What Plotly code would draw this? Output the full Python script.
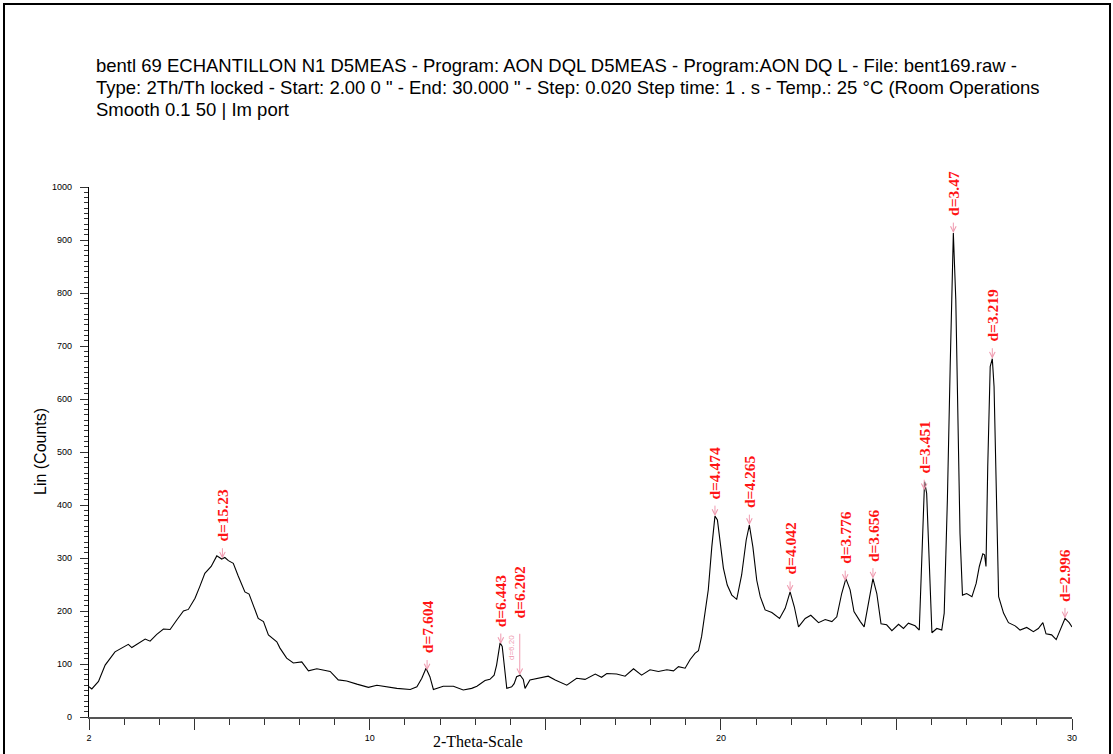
import numpy as np
import plotly.graph_objects as go

# Diffractogram trace: 2-theta (degrees) and intensity (counts)
two_theta = [
    2.00, 2.08, 2.27, 2.46, 2.74, 2.93, 3.12, 3.22, 3.40, 3.60, 3.74, 3.93, 4.12, 4.31,
    4.50, 4.69, 4.83, 5.02, 5.16, 5.30, 5.48, 5.64, 5.78, 5.87, 5.97, 6.11, 6.25, 6.44,
    6.56, 6.68, 6.82, 6.97, 7.11, 7.35, 7.44, 7.63, 7.82, 8.06, 8.25, 8.49, 8.68, 8.87,
    9.10, 9.34, 9.63, 9.96, 10.20, 10.48, 10.77, 11.15, 11.34, 11.48, 11.60, 11.71, 11.81,
    12.09, 12.38, 12.66, 12.90, 13.05, 13.28, 13.42, 13.54, 13.61, 13.71, 13.77, 13.83,
    13.90, 14.04, 14.11, 14.18, 14.28, 14.37, 14.42, 14.56, 14.75, 15.08, 15.28, 15.61,
    15.89, 16.13, 16.42, 16.60, 16.75, 17.03, 17.27, 17.51, 17.74, 17.98, 18.22, 18.46,
    18.65, 18.79, 18.98, 19.12, 19.26, 19.36, 19.45, 19.55, 19.64, 19.74, 19.83, 19.90,
    19.98, 20.07, 20.18, 20.31, 20.45, 20.59, 20.72, 20.81, 20.91, 21.02, 21.12, 21.26,
    21.45, 21.67, 21.83, 21.97, 22.09, 22.21, 22.40, 22.56, 22.78, 22.97, 23.16, 23.30,
    23.44, 23.56, 23.68, 23.79, 23.97, 24.08, 24.20, 24.33, 24.44, 24.56, 24.72, 24.87,
    25.06, 25.20, 25.34, 25.53, 25.65, 25.72, 25.80, 25.86, 25.94, 26.01, 26.15, 26.29,
    26.36, 26.45, 26.53, 26.62, 26.69, 26.77, 26.81, 26.88, 27.00, 27.15, 27.27, 27.36,
    27.46, 27.51, 27.55, 27.60, 27.67, 27.73, 27.78, 27.84, 27.91, 28.05, 28.19, 28.38,
    28.52, 28.71, 28.90, 29.04, 29.17, 29.26, 29.42, 29.55, 29.68, 29.80, 29.92, 30.00,
]
counts = [
    57, 53, 67, 98, 123, 130, 137, 131, 138, 147, 143, 156, 166, 165,
    183, 200, 203, 224, 247, 271, 284, 304, 298, 301, 295, 290, 266, 236,
    232, 211, 186, 180, 155, 142, 130, 111, 102, 104, 87, 91, 89, 86,
    70, 68, 62, 56, 60, 57, 54, 52, 57, 73, 92, 76, 52,
    58, 58, 51, 54, 58, 69, 71, 79, 98, 140, 133, 95,
    54, 57, 63, 76, 79, 71, 54, 70, 73, 77, 70, 60,
    73, 71, 81, 75, 82, 81, 77, 91, 79, 89, 86, 89,
    87, 95, 92, 108, 120, 125, 152, 202, 240, 321, 379, 372,
    331, 281, 249, 230, 222, 268, 334, 362, 321, 258, 227, 202,
    197, 186, 205, 236, 208, 170, 186, 192, 178, 184, 180, 189,
    233, 261, 240, 199, 180, 170, 214, 261, 233, 176, 174, 163,
    175, 167, 177, 172, 164, 315, 444, 422, 284, 159, 167, 164,
    196, 409, 661, 913, 787, 535, 346, 230, 233, 227, 252, 284,
    308, 306, 284, 472, 661, 676, 623, 440, 227, 196, 178, 172,
    164, 169, 161, 167, 178, 157, 155, 146, 167, 186, 178, 170,
]

# Identified reflections: peak position (2-theta) and d-spacing label
peak_two_theta = [5.80, 11.63, 13.73, 14.27, 19.83, 20.81, 21.97, 23.54, 24.33,
                  25.79, 26.62, 27.73, 29.80]
peak_labels = ["d=15.23", "d=7.604", "d=6.443", "d=6.202", "d=4.474", "d=4.265",
               "d=4.042", "d=3.776", "d=3.656", "d=3.451", "d=3.47", "d=3.219",
               "d=2.996"]

x_ticks = [2, 5, 10, 15, 20, 25, 30]
x_tick_text = ["2", "", "10", "", "20", "", "30"]
y_ticks = list(range(0, 1001, 100))

title_lines = [
    "bentl 69 ECHANTILLON N1 D5MEAS - Program: AON DQL D5MEAS - Program:AON DQ L - File: bent169.raw -",
    "Type: 2Th/Th locked - Start: 2.00 0 \" - End: 30.000 \" - Step: 0.020 Step time: 1 . s - Temp.: 25 °C (Room Operations",
    "Smooth 0.1 50 | Im port",
]

W, H = 1113, 754
L, R, T, B = 89, 41, 187, 37
PW, PH = W - L - R, H - T - B


def px_x(px):
    return (px - L) / PW


def px_y(py):
    return (H - B - py) / PH


RED = "#ff1414"
PINK = "#ef9bb0"
SANS = "Arial, Liberation Sans, sans-serif"
SERIF = "Times New Roman, Liberation Serif, serif"

fig = go.Figure()
fig.add_trace(go.Scatter(
    x=two_theta, y=counts, mode="lines",
    line=dict(color="black", width=1.1), hoverinfo="skip", showlegend=False,
))

annotations = []

# Title block
for i, line in enumerate(title_lines):
    annotations.append(dict(
        xref="paper", yref="paper", x=px_x(94), y=px_y(66 + 22 * i),
        xanchor="left", yanchor="middle", showarrow=False, text=line,
        font=dict(family=SANS, size=18.5, color="black"),
    ))

# Axis titles
annotations.append(dict(
    xref="paper", yref="paper", x=px_x(40), y=0.5, textangle=-90,
    xanchor="center", yanchor="middle", showarrow=False, text="Lin (Counts)",
    font=dict(family=SANS, size=16, color="black"),
))
annotations.append(dict(
    xref="paper", yref="paper", x=px_x(478), y=px_y(741),
    xanchor="center", yanchor="middle", showarrow=False, text="2-Theta-Scale",
    font=dict(family=SERIF, size=16, color="black"),
))

# Axis arrowheads
annotations.append(dict(x=2, y=1012, xref="x", yref="y", ax=0, ay=10, text="",
                        showarrow=True, arrowhead=2, arrowsize=1, arrowwidth=1.2,
                        arrowcolor="black", standoff=0))
annotations.append(dict(x=30.1, y=0, xref="x", yref="y", ax=-10, ay=0, text="",
                        showarrow=True, arrowhead=2, arrowsize=1, arrowwidth=1.2,
                        arrowcolor="#555555", standoff=0))

# Peak markers: pink arrow onto the curve, red d-spacing label above it
arrow_len = {"d=6.202": 43}
label_gap = {"d=6.202": 12}
for pos, lab in zip(peak_two_theta, peak_labels):
    tip = float(np.interp(pos, two_theta, counts))
    alen = arrow_len.get(lab, 12)
    gap = label_gap.get(lab, 3)
    annotations.append(dict(
        x=pos, y=tip, xref="x", yref="y", ax=0, ay=-alen, text="",
        showarrow=True, arrowhead=5, arrowsize=1.1, arrowwidth=1,
        arrowcolor=PINK, standoff=0,
    ))
    annotations.append(dict(
        x=pos, y=tip, xref="x", yref="y", showarrow=False, text=f"<b>{lab}</b>",
        textangle=-90, xanchor="center", yanchor="bottom", yshift=alen + gap,
        font=dict(family=SERIF, size=15.5, color=RED),
    ))
    if lab == "d=6.202":
        annotations.append(dict(
            x=pos, y=tip, xref="x", yref="y", showarrow=False, text="d=6.20",
            textangle=-90, xanchor="right", yanchor="bottom", xshift=-1,
            yshift=13, font=dict(family=SANS, size=8, color=PINK),
        ))

fig.update_layout(
    width=W, height=H,
    margin=dict(l=L, r=R, t=T, b=B, pad=0),
    paper_bgcolor="white", plot_bgcolor="white",
    showlegend=False,
    annotations=annotations,
    shapes=[dict(type="rect", xref="paper", yref="paper",
                 x0=px_x(4), x1=px_x(1110), y0=px_y(790), y1=px_y(4),
                 line=dict(color="black", width=2), fillcolor="rgba(0,0,0,0)")],
    xaxis=dict(
        range=[2, 30], tickmode="array", tickvals=x_ticks, ticktext=x_tick_text,
        ticks="outside", ticklen=11, tickwidth=1, tickcolor="#333333",
        showline=True, linecolor="#555555", linewidth=2,
        showgrid=False, zeroline=False,
        tickfont=dict(family=SANS, size=9, color="black"),
        minor=dict(tickmode="linear", tick0=2, dtick=1, ticks="outside",
                   ticklen=6, tickcolor="#333333", showgrid=False),
    ),
    yaxis=dict(
        range=[0, 1000], tickmode="array", tickvals=y_ticks,
        ticks="outside", ticklen=8, tickwidth=1, tickcolor="#333333",
        showline=True, linecolor="black", linewidth=1.2,
        showgrid=False, zeroline=False, ticklabelstandoff=6,
        tickfont=dict(family=SANS, size=9, color="black"),
        minor=dict(tickmode="linear", tick0=0, dtick=10, ticks="outside",
                   ticklen=4, tickcolor="#333333", showgrid=False),
    ),
)

fig.write_html("out.html")
